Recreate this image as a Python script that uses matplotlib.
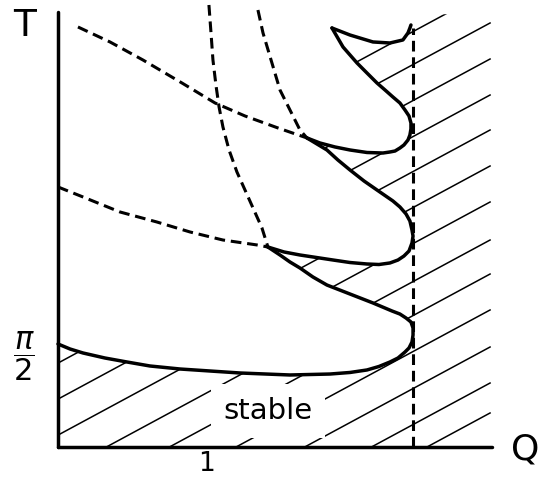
import numpy as np
import matplotlib
matplotlib.use("Agg")
import matplotlib.pyplot as plt
from matplotlib.patches import Polygon

# stability boundary in the (Q, T) plane, piece by piece
# upper cusp: from its right end back to the tip
top_q = [2.369, 2.362, 2.349, 2.315, 2.228, 2.114, 1.960, 1.839]
top_t = [6.563, 6.516, 6.439, 6.330, 6.283, 6.299, 6.407, 6.516]

# first tongue: tip (1.839, 6.516) -> bulge -> tip (1.671, 4.806)
lobe1_q = [1.839, 1.913, 2.007, 2.074, 2.141, 2.195, 2.248, 2.295, 2.329,
           2.356, 2.369, 2.369, 2.362, 2.349, 2.322, 2.295, 2.262, 2.228,
           2.181, 2.074, 1.960, 1.859, 1.758, 1.671]
lobe1_t = [6.516, 6.221, 5.972, 5.816, 5.661, 5.552, 5.443, 5.350, 5.241,
           5.148, 5.039, 4.946, 4.852, 4.774, 4.697, 4.650, 4.603, 4.588,
           4.572, 4.580, 4.619, 4.666, 4.728, 4.806]

# second tongue: tip (1.671, 4.806) -> bulge -> tip (1.409, 3.110)
lobe2_q = [1.671, 1.805, 1.879, 1.960, 2.054, 2.141, 2.248, 2.295, 2.336,
           2.362, 2.376, 2.383, 2.376, 2.356, 2.322, 2.282, 2.228, 2.154,
           2.074, 1.960, 1.846, 1.624, 1.517, 1.409]
lobe2_t = [4.806, 4.619, 4.463, 4.308, 4.137, 3.997, 3.826, 3.733, 3.624,
           3.515, 3.375, 3.281, 3.173, 3.048, 2.970, 2.908, 2.862, 2.838,
           2.846, 2.869, 2.908, 2.986, 3.033, 3.110]

# third tongue: tip (1.409, 3.110) -> bulge -> down to the T axis
lobe3_q = [1.409, 1.490, 1.557, 1.624, 1.711, 1.805, 1.960, 2.114, 2.242,
           2.295, 2.336, 2.369, 2.383, 2.383, 2.376, 2.356, 2.329, 2.282,
           2.228, 2.154, 2.074, 1.960, 1.826, 1.557, 1.221, 0.819, 0.617,
           0.463, 0.315, 0.168, 0.081, 0.0]
lobe3_t = [3.110, 2.986, 2.877, 2.784, 2.644, 2.519, 2.379, 2.240, 2.115,
           2.068, 2.006, 1.944, 1.851, 1.742, 1.633, 1.540, 1.477, 1.384,
           1.322, 1.252, 1.198, 1.159, 1.135, 1.120, 1.151, 1.213, 1.260,
           1.322, 1.384, 1.462, 1.524, 1.602]

# dashed curves
d1_q = [0.134, 0.349, 0.570, 0.832, 1.054, 1.255, 1.477, 1.671]
d1_t = [6.532, 6.299, 6.019, 5.661, 5.350, 5.148, 4.961, 4.806]

d2_q = [0.0, 0.168, 0.416, 0.664, 0.886, 1.107, 1.336, 1.409]
d2_t = [4.044, 3.888, 3.655, 3.499, 3.344, 3.219, 3.142, 3.110]

d3_q = [1.013, 1.027, 1.040, 1.060, 1.081, 1.107, 1.148, 1.201, 1.255,
        1.309, 1.369, 1.409]
d3_t = [6.874, 6.439, 6.019, 5.630, 5.288, 4.977, 4.619, 4.277, 3.997,
        3.717, 3.406, 3.110]

d4_q = [1.342, 1.376, 1.436, 1.490, 1.557, 1.624, 1.671]
d4_t = [6.796, 6.439, 5.972, 5.552, 5.241, 4.930, 4.806]

q_crit = 2.383
q_crit_top = 6.516

# hatch lines: height where each one ends on the right
hatch_right_t = [7.107, 6.594, 6.034, 5.474, 4.930, 4.370, 3.810, 3.219,
                 2.690, 2.131, 1.555, 0.995, 0.529]
hatch_right_q = 2.90
hatch_slope = 1.25

q_max = 2.913
t_max = 6.765

fig = plt.figure(figsize=(5.47, 4.80), dpi=100)
ax = fig.add_axes([58 / 547, 33 / 480, 434 / 547, 435 / 480])
ax.set_xlim(0, q_max)
ax.set_ylim(0, t_max)

for s in ["top", "right"]:
    ax.spines[s].set_visible(False)
for s in ["left", "bottom"]:
    ax.spines[s].set_linewidth(2.5)
    ax.spines[s].set_capstyle("round")

ax.set_xticks([1])
ax.set_xticklabels(["1"], fontsize=19)
ax.set_yticks([np.pi / 2])
ax.set_yticklabels([r"$\dfrac{\pi}{2}$"], fontsize=22)
ax.tick_params(axis="x", length=0, pad=3)
ax.tick_params(axis="y", length=0, pad=17)

ax.set_xlabel("Q", fontsize=26)
ax.xaxis.set_label_coords(1.076, -0.005)
ax.xaxis.label.set_va("center")
ax.set_ylabel("T", fontsize=27, rotation=0)
ax.yaxis.set_label_coords(-0.076, 0.968)
ax.yaxis.label.set_va("center")
ax.yaxis.label.set_ha("center")

# the shaded region right of and below the boundary
chain_q = top_q + lobe1_q[1:] + lobe2_q[1:] + lobe3_q[1:]
chain_t = top_t + lobe1_t[1:] + lobe2_t[1:] + lobe3_t[1:]
region = list(zip(chain_q, chain_t)) + [(0, 0), (3.0, 0), (3.0, 6.73),
                                         (2.38, 6.73)]
clip = Polygon(region, closed=True, facecolor="none", edgecolor="none")
ax.add_patch(clip)

qq = np.array([-0.5, hatch_right_q])
for tr in hatch_right_t:
    ln, = ax.plot(qq, tr + hatch_slope * (qq - hatch_right_q), color="black",
                  lw=1.1, zorder=1)
    ln.set_clip_path(clip)

ax.text(1.41, 0.56, "stable", fontsize=21, ha="center", va="center",
        zorder=2, bbox=dict(facecolor="white", edgecolor="none", pad=9))

solid = dict(color="black", lw=2.5, solid_capstyle="round",
             solid_joinstyle="round", clip_on=False, zorder=4)
ax.plot(top_q, top_t, **solid)
ax.plot(lobe1_q, lobe1_t, **solid)
ax.plot(lobe2_q, lobe2_t, **solid)
ax.plot(lobe3_q, lobe3_t, **solid)

dashed = dict(color="black", lw=2.2, dashes=(3.5, 1.9), clip_on=False,
              zorder=3)
ax.plot(d1_q, d1_t, **dashed)
ax.plot(d2_q, d2_t, **dashed)
ax.plot(d3_q, d3_t, **dashed)
ax.plot(d4_q, d4_t, **dashed)
ax.plot([q_crit, q_crit], [0, q_crit_top], **dashed)

fig.savefig("out.png", dpi=100)
